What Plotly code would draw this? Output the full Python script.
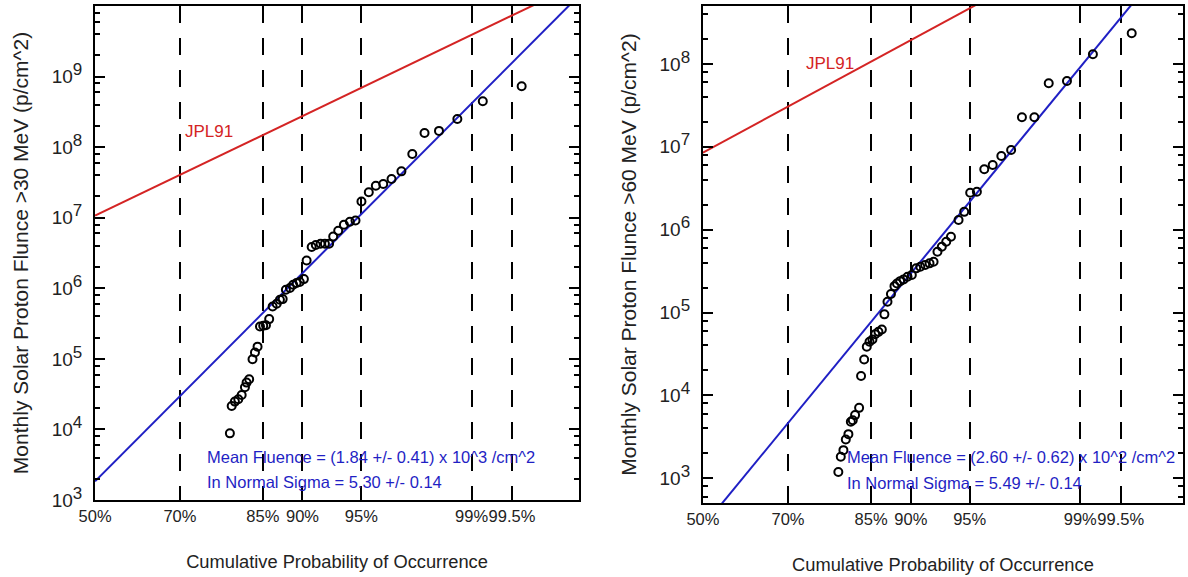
import plotly.graph_objects as go
from statistics import NormalDist

# ---------------- data ----------------
tick_pct = [50, 70, 85, 90, 95, 99, 99.5]
tick_lab = ["50%", "70%", "85%", "90%", "95%", "99%", "99.5%"]

# >30 MeV panel: cumulative probability (%) and monthly fluence (p/cm^2)
prob_30 = [79.76, 80.07, 80.62, 81.19, 81.75, 82.28, 82.54, 82.95, 83.47, 83.84,
           84.23, 84.59, 85.06, 85.45, 85.90, 86.37, 86.91, 87.33, 87.68, 88.08,
           88.57, 88.95, 89.34, 89.70, 90.15, 90.44, 90.96, 91.37, 91.82, 92.22,
           92.59, 92.94, 93.35, 93.79, 94.23, 94.62, 95.01, 95.46, 95.86, 96.25,
           96.65, 97.08, 97.50, 97.91, 98.32, 98.74, 99.17, 99.58]
flu_30 = [8.8e3, 2.15e4, 2.48e4, 2.68e4, 3.08e4, 3.97e4, 4.61e4, 5.15e4, 9.9e4, 1.23e5,
          1.49e5, 2.87e5, 2.94e5, 3.0e5, 3.66e5, 5.52e5, 6.03e5, 6.87e5, 7.03e5, 9.53e5,
          1.01e6, 1.12e6, 1.19e6, 1.23e6, 1.35e6, 2.48e6, 3.84e6, 4.10e6, 4.28e6, 4.28e6,
          4.28e6, 5.43e6, 6.55e6, 7.96e6, 8.78e6, 9.16e6, 1.70e7, 2.29e7, 2.84e7, 3.0e7,
          3.54e7, 4.54e7, 8.0e7, 1.59e8, 1.70e8, 2.51e8, 4.47e8, 7.28e8]

# >60 MeV panel
prob_60 = [79.81, 80.23, 80.68, 81.08, 81.51, 81.91, 82.22, 82.59, 83.22, 83.52,
           83.99, 84.38, 84.78, 85.20, 85.59, 86.04, 86.50, 86.84, 87.24, 87.68,
           88.12, 88.42, 88.80, 89.20, 89.64, 90.11, 90.57, 90.99, 91.47, 91.88,
           92.25, 92.59, 92.96, 93.32, 93.69, 94.25, 94.64, 95.03, 95.44, 95.86,
           96.30, 96.71, 97.13, 97.54, 97.95, 98.35, 98.76, 99.19, 99.59]
flu_60 = [1.19e3, 1.81e3, 2.18e3, 2.93e3, 3.4e3, 4.79e3, 5.0e3, 5.77e3, 7.06e3, 1.71e4,
          2.71e4, 3.86e4, 4.43e4, 4.73e4, 5.48e4, 5.84e4, 6.25e4, 9.5e4, 1.35e5, 1.67e5,
          2.08e5, 2.24e5, 2.39e5, 2.51e5, 2.70e5, 2.83e5, 3.41e5, 3.56e5, 3.74e5, 3.92e5,
          4.1e5, 5.41e5, 6.21e5, 7.14e5, 8.2e5, 1.31e6, 1.64e6, 2.79e6, 2.87e6, 5.35e6,
          6.03e6, 7.74e6, 9.15e6, 2.27e7, 2.27e7, 5.85e7, 6.24e7, 1.31e8, 2.35e8]

# lognormal fit lines and JPL91 model lines (endpoints)
line_prob = [50, 99.9]
fit_30 = [1.84e3, 2.39e10]
fit_60 = [2.60e2, 6.07e9]
jpl_30 = [1.07e7, 2.7e10]
jpl_60 = [8.5e6, 1.6e10]

# ---------------- styling ----------------
nd = NormalDist()


def probit(vals):
    return [nd.inv_cdf(v / 100.0) for v in vals]


RED = "#d42424"
BLUE = "#1f1fc4"
FONT = "Liberation Sans, Arial, sans-serif"

fig = go.Figure()


def add_panel(xa, ya, prob, flu, fit, jpl):
    fig.add_trace(go.Scatter(x=probit(line_prob), y=jpl, mode="lines",
                             line=dict(color=RED, width=2), xaxis=xa, yaxis=ya,
                             showlegend=False, hoverinfo="skip"))
    fig.add_trace(go.Scatter(x=probit(line_prob), y=fit, mode="lines",
                             line=dict(color=BLUE, width=2), xaxis=xa, yaxis=ya,
                             showlegend=False, hoverinfo="skip"))
    fig.add_trace(go.Scatter(x=probit(prob), y=flu, mode="markers",
                             marker=dict(symbol="circle-open", size=8, color="black",
                                         line=dict(width=2, color="black")),
                             xaxis=xa, yaxis=ya, showlegend=False))


add_panel("x", "y", prob_30, flu_30, fit_30, jpl_30)
add_panel("x2", "y2", prob_60, flu_60, fit_60, jpl_60)


def sup_label(e):
    return "10<sup><span style='font-size:17px'>%d</span></sup>" % e


def minor_vals(lo, hi):
    out = []
    for d in range(lo, hi + 1):
        for m in (2, 4, 6, 8):
            out.append(m * 10 ** d)
    return out


xcommon = dict(tickmode="array", tickvals=probit(tick_pct), ticktext=tick_lab,
               tickangle=0,
               showgrid=True, gridcolor="black", gridwidth=2, griddash="17px,15px",
               zeroline=False, showline=True, linecolor="black", linewidth=2,
               mirror=True, ticks="", tickfont=dict(family=FONT, size=16.5, color="#222"),
               title=dict(text="Cumulative Probability of Occurrence",
                          font=dict(family=FONT, size=18.3, color="#222"), standoff=31),
               automargin=False)
ycommon = dict(type="log", showgrid=False, zeroline=False, showline=True,
               linecolor="black", linewidth=2, mirror="ticks", ticks="inside",
               ticklen=10, tickwidth=2, tickcolor="black",
               tickfont=dict(family=FONT, size=19, color="#222"),
               ticklabelstandoff=7, automargin=False)

fig.update_layout(
    width=1188, height=577, margin=dict(l=0, r=0, t=0, b=0),
    paper_bgcolor="white", plot_bgcolor="white",
    xaxis=dict(domain=[0.0800, 0.4874], range=[0, 2.99], anchor="y", **xcommon),
    xaxis2=dict(domain=[0.5917, 0.9958], range=[0, 2.96], anchor="y2", **xcommon),
    yaxis=dict(domain=[0.1334, 0.9896], range=[3, 10], anchor="x",
               tickvals=[10 ** e for e in range(3, 10)],
               ticktext=[sup_label(e) for e in range(3, 10)],
               minor=dict(tickmode="array", tickvals=minor_vals(3, 9), ticks="inside",
                          ticklen=5, tickwidth=1.5, tickcolor="black"),
               title=dict(text="Monthly Solar Proton Flunce >30 MeV (p/cm^2)",
                          font=dict(family=FONT, size=21, color="#222"), standoff=17),
               **ycommon),
    yaxis2=dict(domain=[0.1282, 0.9896], range=[2.70, 8.70], anchor="x2",
                tickvals=[10 ** e for e in range(3, 9)],
                ticktext=[sup_label(e) for e in range(3, 9)],
                minor=dict(tickmode="array", tickvals=minor_vals(2, 8), ticks="inside",
                           ticklen=5, tickwidth=1.5, tickcolor="black"),
                title=dict(text="Monthly Solar Proton Flunce >60 MeV (p/cm^2)",
                           font=dict(family=FONT, size=21, color="#222"), standoff=17),
                **ycommon),
)

ann_font_b = dict(family=FONT, size=16.5, color=BLUE)
ann_font_r = dict(family=FONT, size=17, color=RED)
annotations = [
    dict(text="JPL91", x=183 / 1188, y=1 - 131.7 / 577, font=ann_font_r),
    dict(text="JPL91", x=804 / 1188, y=1 - 63.3 / 577, font=ann_font_r),
    dict(text="Mean Fluence = (1.84 +/- 0.41) x 10^3 /cm^2", x=205 / 1188,
         y=1 - 456.7 / 577, font=ann_font_b),
    dict(text="In Normal Sigma = 5.30 +/- 0.14", x=205 / 1188, y=1 - 481.7 / 577,
         font=ann_font_b),
    dict(text="Mean Fluence = (2.60 +/- 0.62) x 10^2 /cm^2", x=845 / 1188,
         y=1 - 456.7 / 577, font=ann_font_b),
    dict(text="In Normal Sigma = 5.49 +/- 0.14", x=845 / 1188, y=1 - 483.3 / 577,
         font=ann_font_b),
]
for a in annotations:
    a.update(xref="paper", yref="paper", xanchor="left", yanchor="middle",
             showarrow=False)
fig.update_layout(annotations=annotations)

fig.write_html("out.html")
